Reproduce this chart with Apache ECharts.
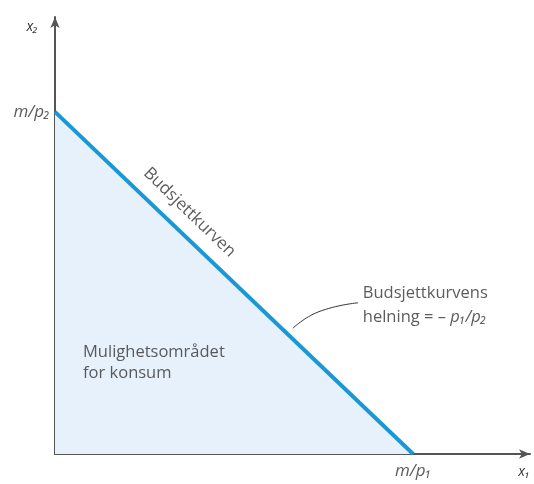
<!DOCTYPE html>
<html><head><meta charset="utf-8">
<script src="https://cdn.jsdelivr.net/npm/echarts@6/dist/echarts.min.js"></script>
<style>html,body{margin:0;padding:0;background:#fff}#c{width:534px;height:484px}</style>
</head><body><div id="c"></div>
<script>
// Budget line endpoints (x = m/p1 intercept, y = m/p2 intercept), axis range 0..100
const budgetLine = [[0, 78.3], [75.4, 0]];
const tickLabelsX = [{value: 75.4, text: 'm/p₁'}];
const tickLabelsY = [{value: 78.3, text: 'm/p₂'}];
const axisNames = {x: 'x₁', y: 'x₂'};
const curveLabel = {pos: [28.3, 55.3], text: 'Budsjettkurven'};
const slopeNote = {pos: [64.8, 34.1], lines: ['Budsjettkurvens', 'helning = – {i|p₁/p₂}']};
const leader = [[50.1, 28.8], [55.4, 32.5], [63.8, 34.6]];
const regionNote = {pos: [5.9, 20.9], lines: ['Mulighetsområdet', 'for konsum']};

const font = '"Open Sans", sans-serif';
const txt = '#333';
const chart = echarts.init(document.getElementById('c'));
chart.setOption({
  animation: false,
  grid: {left: 55, right: 4, top: 17, bottom: 30},
  xAxis: {type: 'value', min: 0, max: 100, splitLine: {show: false}, axisTick: {show: false}, axisLabel: {show: false},
    axisLine: {lineStyle: {color: '#555', width: 2}, symbol: ['none', 'arrow'], symbolSize: [7, 11]},
    name: axisNames.x, nameLocation: 'end', nameGap: -6,
    nameTextStyle: {fontFamily: font, fontStyle: 'italic', fontSize: 14, color: txt, align: 'center', verticalAlign: 'top', padding: [11, 0, 0, 0]}},
  yAxis: {type: 'value', min: 0, max: 100, splitLine: {show: false}, axisTick: {show: false}, axisLabel: {show: false},
    axisLine: {lineStyle: {color: '#555', width: 2}, symbol: ['none', 'arrow'], symbolSize: [7, 11]},
    name: axisNames.y, nameLocation: 'end', nameGap: -10,
    nameTextStyle: {fontFamily: font, fontStyle: 'italic', fontSize: 14, color: txt, align: 'right', verticalAlign: 'middle', padding: [0, 17, 0, 0]}},
  series: [
    {type: 'line', data: budgetLine, symbol: 'none', z: 3,
      lineStyle: {color: '#1a98d5', width: 4}, areaStyle: {color: '#e6f1fb', opacity: 1}},
    {type: 'line', data: leader, symbol: 'none', smooth: true, z: 4,
      lineStyle: {color: '#333', width: 1}},
    {type: 'scatter', symbolSize: 0, z: 5,
      data: tickLabelsX.map(d => ({value: [d.value, 0], label: {formatter: d.text}})),
      label: {show: true, position: 'bottom', distance: 9, fontFamily: font, fontStyle: 'italic', fontSize: 17, color: txt}},
    {type: 'scatter', symbolSize: 0, z: 5,
      data: tickLabelsY.map(d => ({value: [0, d.value], label: {formatter: d.text}})),
      label: {show: true, position: 'left', distance: 5, fontFamily: font, fontStyle: 'italic', fontSize: 17, color: txt}},
    {type: 'scatter', symbolSize: 0, z: 5,
      data: [{value: curveLabel.pos, label: {formatter: curveLabel.text}}],
      label: {show: true, position: 'inside', rotate: -44, fontFamily: font, fontSize: 17, color: txt}},
    {type: 'scatter', symbolSize: 0, z: 5,
      data: [{value: slopeNote.pos, label: {formatter: slopeNote.lines.join('\n'), lineHeight: 24,
                rich: {i: {fontFamily: font, fontStyle: 'italic', fontSize: 16.5, color: txt, lineHeight: 24}}}},
             {value: regionNote.pos, label: {formatter: regionNote.lines.join('\n'), lineHeight: 21}}],
      label: {show: true, position: 'right', distance: 0, align: 'left', fontFamily: font, fontSize: 16.5, color: txt}}
  ]
});
</script></body></html>
